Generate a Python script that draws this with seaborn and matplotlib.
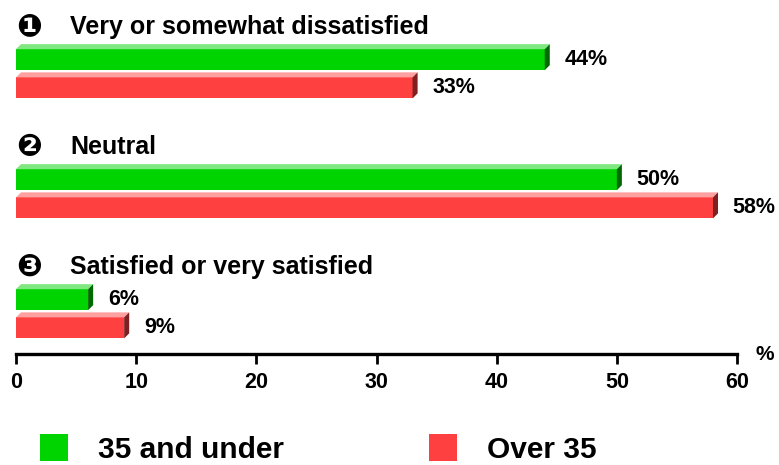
import matplotlib
matplotlib.use("Agg")
import matplotlib.pyplot as plt
from matplotlib.patches import Polygon, Patch
import seaborn as sns
import pandas as pd

# Data
categories = ["Very or somewhat dissatisfied", "Neutral", "Satisfied or very satisfied"]
markers = ["\u2776", "\u2777", "\u2778"]
groups = ["35 and under", "Over 35"]
under35 = [44, 50, 6]
over35 = [33, 58, 9]
xticks = [0, 10, 20, 30, 40, 50, 60]

front = {"35 and under": "#00d400", "Over 35": "#ff4040"}
top_face = {"35 and under": "#80e880", "Over 35": "#ffa0a0"}
side_face = {"35 and under": "#006a00", "Over 35": "#802020"}

df = pd.DataFrame({
    "category": categories * 2,
    "group": [groups[0]] * 3 + [groups[1]] * 3,
    "value": under35 + over35,
})

sns.set_style("white")
plt.rcParams["font.family"] = ["Liberation Sans", "DejaVu Sans"]
plt.rcParams["font.weight"] = "bold"
plt.rcParams["text.color"] = "black"

fig = plt.figure(figsize=(7.79, 4.65), dpi=100)
ax = fig.add_axes([16 / 779, 1 - 354 / 465, 721 / 779, 354 / 465])

sns.barplot(data=df, y="category", x="value", hue="group", orient="h",
            palette=[front[g] for g in groups], width=0.47, gap=0.255,
            saturation=1, legend=False, linewidth=0, ax=ax)

# 3D faces on each bar
dx, dy = 0.42, 0.042
bars = list(ax.patches)
for i, bar in enumerate(bars):
    g = groups[i // 3]
    x0, y0 = bar.get_x(), bar.get_y()
    w, h = bar.get_width(), bar.get_height()
    x1 = x0 + w
    ax.add_patch(Polygon([(x0, y0), (x0 + dx, y0 - dy), (x1 + dx, y0 - dy), (x1, y0)],
                         closed=True, facecolor=top_face[g], edgecolor="none"))
    ax.add_patch(Polygon([(x1, y0), (x1 + dx, y0 - dy), (x1 + dx, y0 + h - dy), (x1, y0 + h)],
                         closed=True, facecolor=side_face[g], edgecolor="none"))
    ax.text(x1 + 1.65, y0 + h / 2, f"{int(w)}%", va="center", ha="left",
            fontsize=15.5, fontweight="bold")

# Category headings
for i, (m, c) in enumerate(zip(markers, categories)):
    ax.text(0.05, i - 0.39, m, va="center", ha="left", fontsize=22,
            family=["DejaVu Sans"], fontweight="bold")
    ax.text(4.5, i - 0.39, c, va="center", ha="left", fontsize=18, fontweight="bold")

ax.set_xlim(0, 60)
ax.set_ylim(2.335, -0.615)
ax.set_xticks(xticks)
ax.set_xticklabels([str(t) for t in xticks], fontsize=15.5, fontweight="bold")
ax.set_yticks([])
ax.set_xlabel("")
ax.set_ylabel("")
for s in ["top", "left", "right"]:
    ax.spines[s].set_visible(False)
ax.spines["bottom"].set_linewidth(2.4)
ax.spines["bottom"].set_color("black")
ax.tick_params(axis="x", bottom=True, direction="out", length=7, width=2,
               color="black", labelcolor="black", pad=6)
ax.text(1.025, 0.0, "%", transform=ax.transAxes, fontsize=15,
        fontweight="bold", va="center", ha="left")

handles = [Patch(facecolor=front[g], edgecolor="none") for g in groups]
fig.legend(handles, groups, loc="lower left", bbox_to_anchor=(40 / 779, 0.003),
           ncol=2, frameon=False, prop={"weight": "bold", "size": 21.5},
           handlelength=0.95, handleheight=1.05, handletextpad=1.0,
           columnspacing=4.85, borderpad=0, borderaxespad=0, labelcolor="black")

fig.savefig("out.png", dpi=100)
